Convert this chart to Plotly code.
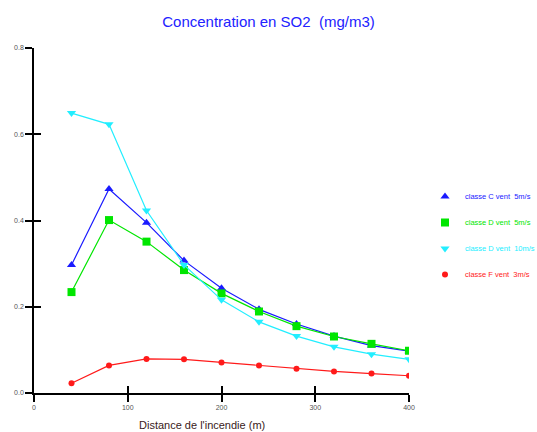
import plotly.graph_objects as go

distance = [40, 80, 120, 160, 200, 240, 280, 320, 360, 400]
classe_c_5 = [0.297, 0.473, 0.395, 0.307, 0.243, 0.194, 0.160, 0.132, 0.110, 0.097]
classe_d_5 = [0.234, 0.401, 0.351, 0.285, 0.231, 0.189, 0.155, 0.131, 0.114, 0.098]
classe_d_10 = [0.649, 0.623, 0.423, 0.297, 0.216, 0.165, 0.132, 0.107, 0.090, 0.078]
classe_f_3 = [0.0225, 0.064, 0.079, 0.078, 0.071, 0.064, 0.056, 0.050, 0.045, 0.040]

names = ["classe C vent  5m/s", "classe D vent  5m/s", "classe D vent  10m/s", "classe F vent  3m/s"]
series = [classe_c_5, classe_d_5, classe_d_10, classe_f_3]
colors = ["#1a1aff", "#00e600", "#22eeff", "#ff1a1a"]
symbols = ["triangle-up", "square", "triangle-down", "circle"]
msizes = [8, 8, 8, 6]

x_ticks = [0, 100, 200, 300, 400]
y_ticks = [0.0, 0.2, 0.4, 0.6, 0.8]
y_labels = ["0.0", "0.2", "0.4", "0.6", "0.8"]

fig = go.Figure()
for name, ys, c, s, ms in zip(names, series, colors, symbols, msizes):
    fig.add_trace(go.Scatter(x=distance, y=ys, mode="lines+markers",
                             line=dict(color=c, width=1.2),
                             marker=dict(color=c, symbol=s, size=ms),
                             showlegend=False, hoverinfo="skip"))
for i, (name, c, s, ms) in enumerate(zip(names, colors, symbols, msizes)):
    fig.add_trace(go.Scatter(x=[None], y=[None], mode="markers",
                             marker=dict(color=c, symbol=s, size=ms),
                             name=f'<span style="color:{c}">{name}</span>',
                             legendgroup=f"g{i}", showlegend=True))
# invisible trace on overlay axes (for inner half of the cross ticks)
fig.add_trace(go.Scatter(x=[None], y=[None], xaxis="x2", yaxis="y2",
                         showlegend=False, hoverinfo="skip"))

axis_common = dict(showgrid=False, zeroline=False, showline=True,
                   linecolor="black", linewidth=1.5, tickcolor="black",
                   tickwidth=1.5, ticklen=7)
fig.update_layout(
    width=537, height=432,
    paper_bgcolor="white", plot_bgcolor="white",
    margin=dict(l=34, r=128, t=48, b=39, autoexpand=False),
    font=dict(family="Liberation Sans, Arial, sans-serif", size=7, color="#555555"),
    title=dict(text="Concentration en SO2  (mg/m3)", x=0.5, xanchor="center",
               y=1 - 22 / 432, yanchor="middle",
               font=dict(size=15, color="#2222ff")),
    xaxis=dict(range=[0, 400], tickvals=x_ticks, ticks="outside", **axis_common),
    yaxis=dict(range=[0, 0.8], tickvals=y_ticks, ticktext=y_labels,
               ticks="outside", **axis_common),
    xaxis2=dict(range=[0, 400], tickvals=x_ticks, ticks="inside", overlaying="x",
                anchor="y", showticklabels=False, side="bottom", **axis_common),
    yaxis2=dict(range=[0, 0.8], tickvals=y_ticks, ticks="inside", overlaying="y",
                anchor="x", showticklabels=False, side="left", **axis_common),
    legend=dict(x=(425 - 34) / 375, xanchor="left", y=1 - (182 - 48) / 345,
                yanchor="top", font=dict(size=7.5), tracegroupgap=7,
                bgcolor="rgba(0,0,0,0)", itemwidth=30),
    annotations=[dict(text="Distance de l'incendie (m)", xref="paper", yref="paper",
                      x=(202 - 34) / 375, y=-(425 - 393) / 345, xanchor="center",
                      yanchor="middle", showarrow=False,
                      font=dict(size=11, color="#3a1a1a"))],
)
fig.write_html("out.html")
